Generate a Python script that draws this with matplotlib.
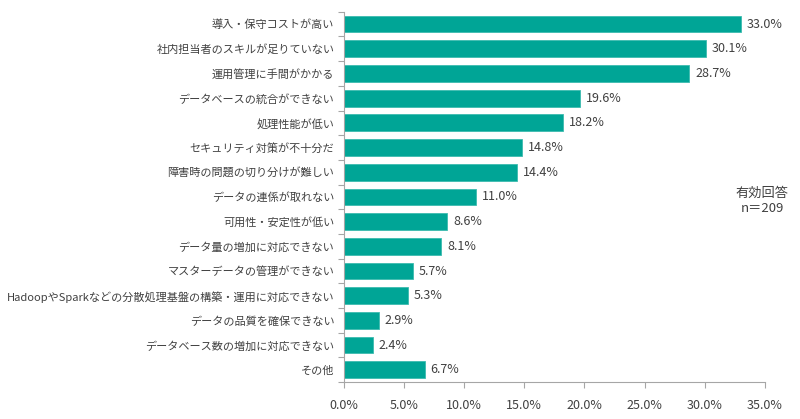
import matplotlib
matplotlib.use('Agg')
import matplotlib.pyplot as plt
import numpy as np

plt.rcParams['font.family'] = ['Noto Sans CJK JP', 'DejaVu Sans']

categories = [
    '導入・保守コストが高い',
    '社内担当者のスキルが足りていない',
    '運用管理に手間がかかる',
    'データベースの統合ができない',
    '処理性能が低い',
    'セキュリティ対策が不十分だ',
    '障害時の問題の切り分けが難しい',
    'データの連係が取れない',
    '可用性・安定性が低い',
    'データ量の増加に対応できない',
    'マスターデータの管理ができない',
    'HadoopやSparkなどの分散処理基盤の構築・運用に対応できない',
    'データの品質を確保できない',
    'データベース数の増加に対応できない',
    'その他',
]
values = [33.0, 30.1, 28.7, 19.6, 18.2, 14.8, 14.4, 11.0, 8.6, 8.1, 5.7, 5.3, 2.9, 2.4, 6.7]
xticks = [0, 5, 10, 15, 20, 25, 30, 35]

teal = '#00A596'
grey = '#A6A6A6'
text_color = '#404040'

fig = plt.figure(figsize=(8, 4.19), dpi=100)
ax = fig.add_axes([0.43, 0.088, 0.526, 0.884])

y = np.arange(len(categories))
ax.barh(y, values, height=0.68, color=teal, edgecolor='#3DBBAF', linewidth=0.6)
for yi, v in zip(y, values):
    ax.text(v + 0.5, yi, '{:.1f}%'.format(v), va='center', ha='left',
            fontsize=9, color=text_color)

ax.set_ylim(len(categories) - 0.5, -0.5)
ax.set_xlim(0, 35)
ax.set_yticks(y)
ax.set_yticklabels(categories, fontsize=8, color=text_color)
ax.set_yticks(np.arange(-0.5, len(categories), 1), minor=True)
ax.tick_params(axis='y', which='major', length=0, pad=7)
ax.tick_params(axis='y', which='minor', length=4, color=grey, width=0.8)
ax.set_xticks(xticks)
ax.set_xticklabels(['{:.1f}%'.format(t) for t in xticks], fontsize=9, color=text_color)
ax.tick_params(axis='x', length=4, color=grey, width=0.8, pad=8)

for s in ['top', 'right']:
    ax.spines[s].set_visible(False)
for s in ['left', 'bottom']:
    ax.spines[s].set_color(grey)
    ax.spines[s].set_linewidth(0.8)

fig.text(0.953, 0.52, '有効回答\nn＝209', ha='center', va='center',
         fontsize=9.5, color=text_color, linespacing=1.2)

fig.savefig('out.png', dpi=100)
